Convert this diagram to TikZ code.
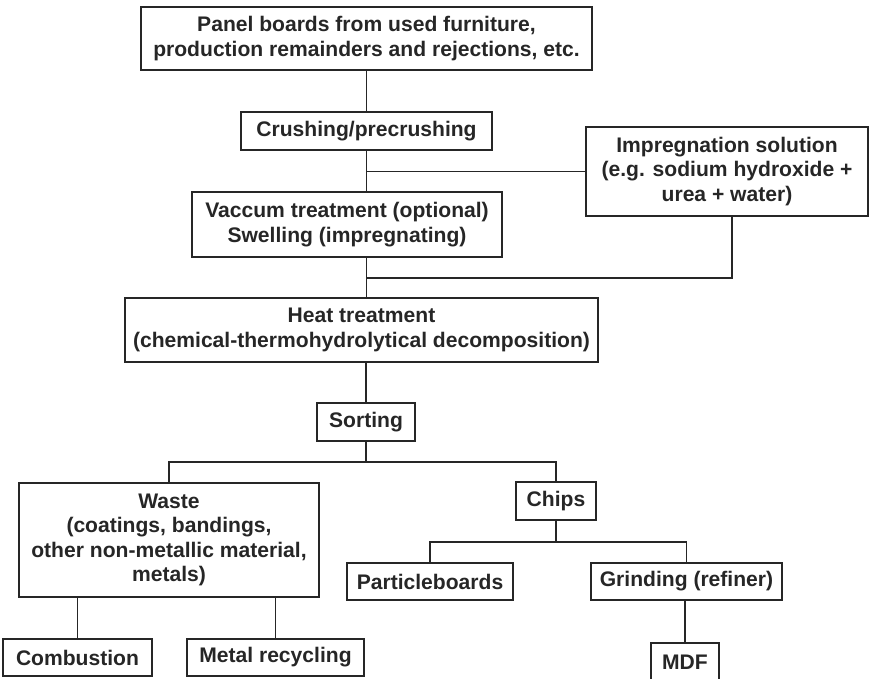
\documentclass[tikz,border=0pt]{standalone}
\usepackage{fontspec}
\setmainfont{Liberation Sans}
\usetikzlibrary{calc}
\usetikzlibrary{positioning}

\begin{document}
\begin{tikzpicture}[x=0.02cm,y=-0.02cm]
			\tikzset{line/.style={draw,line width=0.6pt,black!85}}
			\tikzset{box/.style={line,rectangle,inner sep=2pt,align=center,font=\fontsize{12}{13.8}\selectfont\bfseries}}

			\useasboundingbox (0,0) rectangle (869,679);

			% boxes: centre, width, height in px
			\node[box,minimum width=451*0.02cm,minimum height=63*0.02cm] (panel) at (366.5,38.5) {Panel boards from used furniture,\\production remainders and rejections, etc.};
			\node[box,minimum width=251*0.02cm,minimum height=38*0.02cm] (crush) at (366.5,131) {Crushing/precrushing};
			\node[box,minimum width=282*0.02cm,minimum height=89*0.02cm] (impreg) at (727,171.5) {Impregnation solution\\(e.g. sodium hydroxide +\\urea + water)};
			\node[box,minimum width=310*0.02cm,minimum height=65*0.02cm] (vac) at (347,224.5) {Vaccum treatment (optional)\\Swelling (impregnating)};
			\node[box,minimum width=473*0.02cm,minimum height=64*0.02cm] (heat) at (361.5,330) {Heat treatment\\(chemical-thermohydrolytical decomposition)};
			\node[box,minimum width=98*0.02cm,minimum height=38*0.02cm] (sort) at (366,422) {Sorting};
			\node[box,minimum width=300*0.02cm,minimum height=114*0.02cm] (waste) at (169,540) {Waste\\(coatings, bandings,\\other non-metallic material,\\metals)};
			\node[box,minimum width=80*0.02cm,minimum height=38*0.02cm] (chips) at (556,501) {Chips};
			\node[box,minimum width=166*0.02cm,minimum height=37*0.02cm] (part) at (430,581.5) {Particleboards};
			\node[box,minimum width=191*0.02cm,minimum height=37*0.02cm] (grind) at (686.5,581.5) {Grinding (refiner)};
			\node[box,minimum width=68*0.02cm,minimum height=38*0.02cm] (mdf) at (685,662) {MDF};
			\node[box,minimum width=149*0.02cm,minimum height=37*0.02cm] (comb) at (77.5,657.5) {Combustion};
			\node[box,minimum width=177*0.02cm,minimum height=37*0.02cm] (metal) at (275.5,657.5) {Metal recycling};

			\coordinate (j1) at (366.5,278);
			\coordinate (s1) at (366,462);
			\coordinate (c1) at (556,542);

			\path[line] (panel) to (crush);
			\path[line] (crush.south) to (crush.south |- vac.north);
			\path[line] (impreg.west) to (impreg.west -| crush.south);
			\path[line] ($(impreg.south)+(5,0)$) |- (j1);
			\path[line] (vac.south -| crush.south) to (heat.north -| crush.south);
			\path[line] (heat.south -| sort.north) to (sort.north);
			\path[line] (sort.south) to (s1);
			\path[line] (waste.north) |- (s1) -| (chips.north);
			\path[line] (chips.south) to (c1);
			\path[line] (part.north) |- (c1) -| (grind.north);
			\path[line] (mdf.north |- grind.south) to (mdf.north);
			\path[line] (waste.south -| comb.north) to (comb.north);
			\path[line] (waste.south -| metal.north) to (metal.north);
		\end{tikzpicture}
\end{document}
